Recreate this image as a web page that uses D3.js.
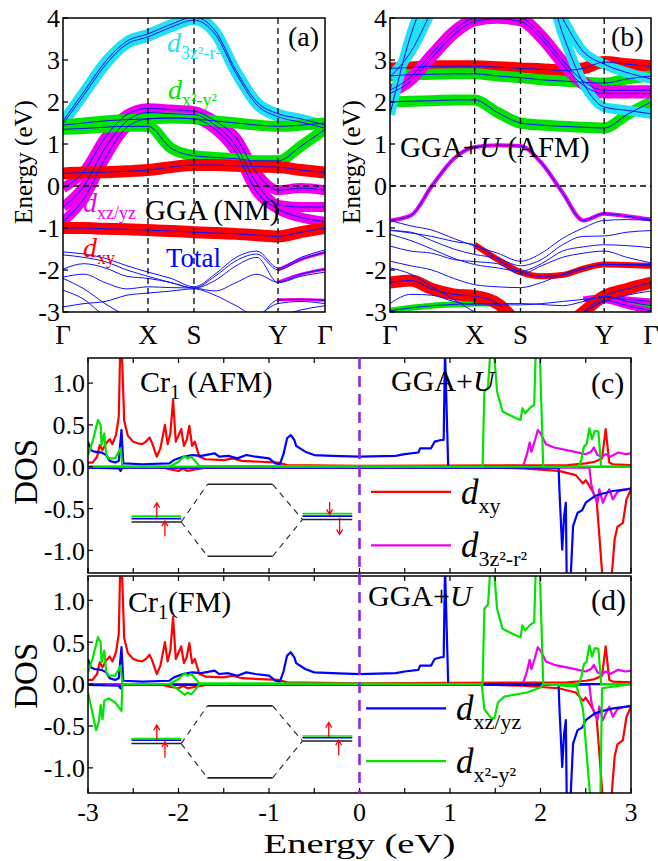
<!DOCTYPE html>
<html>
<head>
<meta charset="utf-8">
<script src="https://cdn.jsdelivr.net/npm/d3@7"></script>
<style>
body { margin: 0; background: #fff; }
svg { display: block; }
svg text { font-family: "Liberation Serif", "Times New Roman", Times, "DejaVu Serif", serif; }
</style>
</head>
<body>
<div id="chart"></div>
<script>
// ---------- band structure data (energies in eV along the k path) ----------
var kGrid = [0, 21, 42, 64, 85, 108, 131, 152, 173, 194, 215, 238, 262];
var kTicks = [0, 85, 131, 215, 262];
var kNames = ["Γ", "X", "S", "Y", "Γ"];
var eTicks = [-3, -2, -1, 0, 1, 2, 3, 4];

// (a) GGA non-magnetic
var nmXY = [
  [0.3, 0.32, 0.33, 0.35, 0.38, 0.45, 0.5, 0.5, 0.48, 0.46, 0.45, 0.38, 0.32],
  [-1.0, -1.0, -1.02, -1.03, -1.05, -1.07, -1.1, -1.12, -1.14, -1.17, -1.2, -1.1, -1.0]
];
var nmXZ = [
  [-0.05, 0.35, 1.15, 1.7, 1.85, 1.82, 1.78, 1.55, 1.15, 0.3, -0.1, -0.05, -0.1],
  [-0.5, 0.0, 0.9, 1.55, 1.75, 1.72, 1.7, 1.45, 0.95, 0.05, -0.45, -0.5, -0.5],
  [-0.85, -0.3, 0.65, 1.4, 1.6, 1.62, 1.6, 1.35, 0.8, -0.15, -0.55, -0.75, -0.85]
];
var nmZ2 = [
  [1.55, 2.25, 2.95, 3.45, 3.62, 3.85, 4.02, 3.7, 2.75, 2.0, 1.72, 1.6, 1.45],
  [1.48, 2.17, 2.87, 3.38, 3.55, 3.78, 3.95, 3.62, 2.68, 1.93, 1.65, 1.52, 1.38]
];
var nmX2 = [
  [1.35, 1.37, 1.4, 1.42, 1.42, 0.9, 0.72, 0.68, 0.65, 0.6, 0.6, 0.95, 1.35],
  [1.45, 1.5, 1.55, 1.58, 1.6, 1.62, 1.6, 1.55, 1.5, 1.45, 1.42, 1.45, 1.5]
];
var nmRest = [
  [-1.57, -1.62, -1.72, -1.9, -2.05, -2.2, -2.4, -2.1, -1.7, -1.55, -1.95, -1.7, -1.52],
  [-1.64, -1.7, -1.8, -2.0, -2.15, -2.3, -2.43, -2.15, -1.78, -1.62, -2.0, -1.75, -1.58],
  [-1.98, -1.85, -1.95, -2.15, -2.2, -2.3, -2.43, -2.25, -1.9, -1.7, -2.3, -2.15, -2.05],
  [-2.17, -2.1, -2.3, -2.45, -2.4, -2.42, -2.43, -2.5, -2.3, -2.1, -2.29, -2.1, -1.98],
  [-2.88, -2.8, -2.75, -2.6, -2.55, -2.5, -2.45, -2.6, -2.85, -3.1, -2.71, -2.7, -2.72],
  [-2.48, -2.7, -3.1, -3.3, -3.3, -3.3, -3.3, -3.3, -3.3, -3.1, -2.8, -2.75, -2.8],
  [-2.2, -2.45, -2.8, -3.1, -3.3, -3.3, -3.3, -3.3, -3.3, -3.2, -3.1, -2.95, -2.85]
];
// partial orbital weight on the lower bands: [orbital, band, first k index, last k index]
var nmPart = [["xzyz", 1, 10, 12], ["xzyz", 3, 10, 12], ["xzyz", 4, 10, 12]];

// (b) GGA+U antiferromagnetic
var afmXY = [
  [2.8, 2.82, 2.85, 2.85, 2.85, 2.83, 2.8, 2.78, 2.75, 2.8, 2.95, 2.9, 2.85],
  [-2.3, -2.25, -2.45, -2.58, -2.62, -2.8, -3.3, -3.5, -3.4, -3.0, -2.62, -2.45, -2.3]
];
var afmXZ = [
  [2.28, 2.6, 3.15, 3.7, 4.0, 4.05, 4.0, 3.6, 3.0, 2.5, 2.28, 2.28, 2.28],
  [2.2, 2.5, 3.05, 3.6, 3.92, 3.98, 3.92, 3.5, 2.9, 2.4, 2.2, 2.2, 2.2]
];
var afmXZweak = [
  [-0.82, -0.7, 0.0, 0.65, 0.93, 0.97, 0.95, 0.55, -0.15, -0.82, -0.66, -0.72, -0.8]
];
var afmZ2 = [
  [1.7, 3.6, 4.8, 5.5, 5.5, 5.5, 5.5, 5.2, 3.65, 2.45, 1.88, 1.8, 1.72],
  [2.6, 3.2, 4.2, 5.5, 5.5, 5.5, 5.5, 5.0, 4.0, 3.2, 2.9, 2.7, 2.55]
];
var afmX2 = [
  [2.62, 2.65, 2.66, 2.67, 2.67, 2.62, 2.58, 2.53, 2.5, 2.47, 2.45, 2.55, 2.62],
  [2.0, 2.02, 2.03, 2.05, 2.05, 1.75, 1.5, 1.45, 1.42, 1.4, 1.38, 1.7, 2.0]
];
var afmRest = [
  [-0.82, -0.95, -1.05, -1.25, -1.43, -1.6, -1.79, -1.6, -1.25, -1.0, -0.82, -0.8, -0.82],
  [-1.06, -1.1, -1.3, -1.5, -1.63, -1.72, -1.9, -1.75, -1.4, -1.2, -1.19, -1.1, -1.06],
  [-1.15, -1.3, -1.5, -1.72, -1.87, -1.95, -2.03, -1.85, -1.55, -1.45, -1.4, -1.42, -1.47],
  [-1.43, -1.55, -1.6, -1.75, -1.8, -1.85, -2.1, -1.9, -1.7, -1.6, -1.55, -1.7, -1.83],
  [-1.79, -1.9, -2.0, -2.2, -2.35, -2.4, -2.42, -2.3, -2.1, -1.95, -1.87, -1.87, -1.87],
  [-1.95, -2.1, -2.4, -2.7, -3.0, -3.2, -3.4, -3.4, -3.3, -3.0, -2.75, -2.6, -2.5],
  [-2.8, -2.58, -2.6, -2.75, -2.83, -2.83, -2.83, -2.8, -2.75, -2.7, -2.65, -2.7, -2.75],
  [-1.05, -1.12, -1.2, -1.32, -1.4, -1.75, -2.05, -2.15, -2.12, -1.97, -1.87, -1.88, -1.9],
  [-2.97, -2.9, -2.85, -2.82, -2.8, -2.8, -2.8, -2.82, -2.85, -2.75, -2.62, -2.75, -2.85],
  [-3.0, -3.2, -3.4, -3.5, -3.5, -3.5, -3.5, -3.5, -3.4, -3.1, -2.72, -2.85, -2.97]
];
var afmPart = [["xy", 7, 4, 12], ["x2y2", 8, 0, 5], ["x2y2", 8, 10, 12], ["xzyz", 9, 9, 12], ["xzyz", 6, 9, 12]];

// ---------- Cr1 partial DOS, [energy (eV), DOS] ----------
var dos_xy_up = [[-3.0,0.05],[-2.95,0.05],[-2.9,0.12],[-2.87,0.26],[-2.84,0.2],[-2.8,0.28],[-2.76,0.33],[-2.73,0.27],
  [-2.69,0.38],[-2.66,0.6],[-2.645,1.35],[-2.625,1.35],[-2.6,0.55],[-2.56,0.37],[-2.5,0.3],[-2.45,0.28],[-2.4,0.27],
  [-2.36,0.3],[-2.32,0.35],[-2.29,0.28],[-2.24,0.12],[-2.2,0.22],[-2.15,0.5],[-2.12,0.27],[-2.09,0.4],[-2.06,0.8],
  [-2.03,0.3],[-1.97,0.45],[-1.94,0.25],[-1.91,0.32],[-1.88,0.49],[-1.85,0.25],[-1.82,0.3],[-1.77,0.12],[-1.7,0.09],
  [-1.5,0.08],[-1.4,0.1],[-1.3,0.07],[-1.1,0.06],[-0.9,0.05],[-0.8,0.02],[0,0.01],[2.3,0.02],[2.5,0.04],[2.6,0.06],
  [2.68,0.1],[2.72,0.45],[2.74,0.25],[2.76,0.05],[2.8,0.03],[3,0.02]];
var dos_xzyz_up = [[-3.0,0.3],[-2.97,0.2],[-2.93,0.18],[-2.85,0.17],[-2.8,0.14],[-2.76,0.07],[-2.7,0.05],[-2.66,0.07],
  [-2.63,0.44],[-2.61,0.04],[-2.4,0.03],[-2.1,0.04],[-2.05,0.08],[-1.95,0.12],[-1.85,0.14],[-1.75,0.13],[-1.6,0.16],
  [-1.55,0.12],[-1.45,0.13],[-1.35,0.1],[-1.25,0.14],[-1.15,0.12],[-1.0,0.1],[-0.93,0.04],[-0.88,0.03],[-0.84,0.15],
  [-0.8,0.34],[-0.76,0.38],[-0.72,0.32],[-0.7,0.25],[-0.6,0.18],[-0.5,0.14],[-0.3,0.13],[0,0.12],[0.4,0.13],[0.5,0.15],
  [0.65,0.17],[0.67,0.22],[0.79,0.22],[0.83,0.3],[0.9,0.32],[0.93,0.32],[0.945,1.4],[0.98,0.0],[3,0.0]];
var dos_z2_up = [[-3,0],[1.8,0.0],[1.82,0.05],[1.85,0.15],[1.88,0.29],[1.9,0.18],[1.94,0.32],[1.97,0.44],[2.0,0.4],
  [2.06,0.27],[2.15,0.23],[2.33,0.19],[2.5,0.15],[2.56,0.18],[2.59,0.23],[2.63,0.14],[2.68,0.12],[2.72,0.15],
  [2.77,0.12],[2.86,0.17],[2.94,0.15],[3,0.16]];
var dos_x2y2_up = [[-3,0.14],[-2.95,0.3],[-2.89,0.56],[-2.86,0.5],[-2.85,0.26],[-2.82,0.4],[-2.8,0.15],[-2.77,0.1],
  [-2.7,0.1],[-2.64,0.22],[-2.62,0.0],[-2.1,0.0],[-2.05,0.03],[-2.0,0.06],[-1.93,0.13],[-1.9,0.1],[-1.86,0.12],
  [-1.8,0.05],[-1.77,0.01],[1.36,0.0],[1.38,0.9],[1.42,0.95],[1.45,1.45],[1.48,1.45],[1.52,0.9],[1.58,0.66],[1.73,0.58],
  [1.78,0.56],[1.8,0.7],[1.83,0.64],[1.88,0.7],[1.93,0.74],[1.95,1.45],[1.99,1.45],[2.03,0.0],[2.42,0.0],[2.45,0.08],
  [2.48,0.24],[2.51,0.27],[2.54,0.46],[2.57,0.33],[2.6,0.43],[2.64,0.42],[2.67,0.0],[3,0]];
var dos_xy_dn = [[-3,0],[-2.2,0],[-2.1,-0.03],[-2.0,-0.05],[-1.95,-0.02],[-1.9,-0.05],[-1.8,-0.03],[-1.7,-0.01],
  [1.5,-0.01],[1.8,-0.02],[2.2,-0.05],[2.39,-0.1],[2.47,-0.2],[2.5,-0.16],[2.58,-0.3],[2.62,-0.4],[2.65,-0.82],
  [2.69,-1.4],[2.78,-1.4],[2.82,-0.86],[2.85,-0.72],[2.91,-0.67],[2.95,-0.39],[3,-0.27]];
var dos_xzyz_dn = [[-3,-0.01],[-2.66,-0.02],[-2.64,-0.05],[-2.62,-0.01],[2.2,-0.01],[2.21,-0.3],[2.24,-0.99],
  [2.26,-0.6],[2.28,-0.43],[2.29,-1.4],[2.33,-1.4],[2.36,-0.71],[2.41,-0.55],[2.46,-0.52],[2.5,-0.43],[2.6,-0.35],
  [2.69,-0.32],[2.8,-0.29],[2.95,-0.27],[3,-0.26]];
var dos_z2_dn = [[-3,-0.01],[2.54,-0.01],[2.56,-0.2],[2.58,-0.3],[2.63,-0.43],[2.65,-0.27],[2.69,-0.43],[2.72,-0.35],
  [2.76,-0.27],[2.8,-0.39],[2.85,-0.3],[2.9,-0.28],[2.95,-0.27],[3,-0.26]];
var dosAFM_x2y2_dn = [[-3,0],[3,0]];
var dosFM_x2y2_dn = [[-3,-0.1],[-2.96,-0.3],[-2.91,-0.55],[-2.88,-0.45],[-2.86,-0.25],[-2.84,-0.42],[-2.82,-0.2],
  [-2.77,-0.17],[-2.7,-0.22],[-2.63,-0.32],[-2.62,0],[-2.1,0],[-2.05,-0.03],[-2.0,-0.07],[-1.93,-0.13],[-1.9,-0.1],
  [-1.86,-0.12],[-1.8,-0.05],[-1.77,0],[1.35,0],[1.38,-0.3],[1.45,-0.4],[1.49,-0.41],[1.53,-0.22],[1.6,-0.15],
  [1.85,-0.1],[2.0,-0.04],[2.03,0],[2.4,-0.03],[2.47,-0.3],[2.56,-1.5],[2.66,-1.5],[2.68,-0.05],[3,0]];

var dosTicksX = [-3, -2, -1, 0, 1, 2, 3];
var dosTicksY = [-1, -0.5, 0, 0.5, 1];

// level-scheme inset (energy, DOS units of the panel)
var diagX = [-2.52, -1.97, -1.68, -0.96, -0.63, -0.08];
var diagAFM = { left: [-0.59, -0.62, -0.66], right: [-0.56, -0.59, -0.63], top: -0.21, bottom: -1.07,
  arrows: [[-2.24, -0.61, -0.43], [-2.15, -0.83, -0.65], [-0.33, -0.42, -0.57], [-0.22, -0.61, -0.81]] };
var diagFM = { left: [-0.65, -0.67, -0.71], right: [-0.62, -0.64, -0.68], top: -0.26, bottom: -1.12,
  arrows: [[-2.24, -0.67, -0.49], [-2.15, -0.88, -0.69], [-0.34, -0.63, -0.46], [-0.23, -0.85, -0.67]] };

// ---------- drawing ----------
var colors = { xy: "#ff0000", xzyz: "#ee00ee", z2: "#22e2f2", x2y2: "#00e400", tot: "#1010ff" };
var fatW = { xy: 12, xzyz: 10, z2: 10, x2y2: 11 };

var svg = d3.select("#chart").append("svg")
  .attr("width", 658).attr("height", 861);
svg.append("rect").attr("width", 658).attr("height", 861).attr("fill", "#fff");

function orbLabel(x, y, sub, color, size, subSize) {
  var t = svg.append("text").attr("x", x).attr("y", y).attr("fill", color).attr("font-size", size);
  t.append("tspan").attr("font-style", "italic").text("d");
  t.append("tspan").attr("font-size", subSize).attr("dy", size * 0.25).text(sub);
  return t;
}

function bandPanel(p) {
  var x = d3.scaleLinear().domain([0, 262]).range([p.x0, p.x1]);
  var y = d3.scaleLinear().domain([-3, 4]).range([312, 18]);
  svg.append("clipPath").attr("id", "clip-" + p.id).append("rect")
    .attr("x", p.x0).attr("y", 18).attr("width", p.x1 - p.x0).attr("height", 294);
  var g = svg.append("g").attr("clip-path", "url(#clip-" + p.id + ")");
  var line = d3.line().x((d, i) => x(kGrid[i])).y(d => y(d)).curve(d3.curveMonotoneX);

  // partial weights first
  p.part.forEach(function(pt) {
    var seg = d3.line().x((d, i) => x(kGrid[i])).y(d => y(d)).curve(d3.curveMonotoneX)
      .defined((d, i) => i >= pt[2] && i <= pt[3]);
    g.append("path").attr("d", seg(p.rest[pt[1]])).attr("fill", "none")
      .attr("stroke", colors[pt[0]]).attr("stroke-width", p.partW);
  });
  if (p.weak) {
    g.selectAll(null).data(p.weak).enter().append("path")
      .attr("d", line).attr("fill", "none").attr("stroke", colors.xzyz).attr("stroke-width", 4);
  }
  p.order.forEach(function(orb) {
    g.selectAll(null).data(p.fat[orb]).enter().append("path")
      .attr("d", line).attr("fill", "none")
      .attr("stroke", colors[orb]).attr("stroke-width", fatW[orb]);
  });
  // thin total bands on top
  var all = [];
  p.order.forEach(orb => { all = all.concat(p.fat[orb]); });
  all = all.concat(p.rest).concat(p.weak || []);
  g.selectAll(null).data(all).enter().append("path")
    .attr("d", line).attr("fill", "none").attr("stroke", colors.tot).attr("stroke-width", 1);

  // dashed guides
  svg.selectAll(null).data(kTicks.slice(1, 4)).enter().append("line")
    .attr("x1", d => x(d)).attr("x2", d => x(d)).attr("y1", 18).attr("y2", 312)
    .attr("stroke", "#000").attr("stroke-width", 1.3).attr("stroke-dasharray", "6,4");
  svg.append("line").attr("x1", p.x0).attr("x2", p.x1).attr("y1", y(0)).attr("y2", y(0))
    .attr("stroke", "#000").attr("stroke-width", 1.3).attr("stroke-dasharray", "6,4");

  svg.append("rect").attr("x", p.x0).attr("y", 18).attr("width", p.x1 - p.x0).attr("height", 294)
    .attr("fill", "none").attr("stroke", "#000").attr("stroke-width", 1.5);

  svg.selectAll(null).data(eTicks).enter().append("line")
    .attr("x1", p.x0).attr("x2", p.x0 + 5).attr("y1", d => y(d)).attr("y2", d => y(d))
    .attr("stroke", "#000").attr("stroke-width", 1.3);
  svg.selectAll(null).data(eTicks).enter().append("text")
    .attr("x", p.x0 - 3).attr("y", d => y(d)).attr("dy", "0.36em")
    .attr("text-anchor", "end").attr("font-size", 26).text(d => String(d));
  svg.selectAll(null).data(kTicks).enter().append("text")
    .attr("x", d => x(d)).attr("y", 344).attr("text-anchor", "middle")
    .attr("font-size", 27).text((d, i) => kNames[i]);
  svg.append("text").attr("transform", "translate(" + p.labX + ",162) rotate(-90)")
    .attr("text-anchor", "middle").attr("dy", "0.35em").attr("font-size", 25).text("Energy (eV)");
}

bandPanel({ id: "a", x0: 63, x1: 325, labX: 23, partW: 3,
  fat: { xy: nmXY, xzyz: nmXZ, z2: nmZ2, x2y2: nmX2 },
  order: ["z2", "xzyz", "x2y2", "xy"], rest: nmRest, part: nmPart });
bandPanel({ id: "b", x0: 390, x1: 651, labX: 351, partW: 6,
  fat: { xy: afmXY, xzyz: afmXZ, z2: afmZ2, x2y2: afmX2 },
  order: ["xy", "x2y2", "xzyz", "z2"], rest: afmRest, part: afmPart, weak: afmXZweak });

// band panel annotations
orbLabel(167, 52, "3z²-r²", colors.z2, 28, 18);
orbLabel(168, 99, "x²-y²", colors.x2y2, 28, 18);
orbLabel(83, 212, "xz/yz", colors.xzyz, 28, 18);
orbLabel(83, 257, "xy", colors.xy, 28, 18);
svg.append("text").attr("x", 145).attr("y", 220).attr("font-size", 29).text("GGA (NM)");
svg.append("text").attr("x", 166).attr("y", 267).attr("font-size", 27).attr("fill", "#0000ff").text("Total");
svg.append("text").attr("x", 288).attr("y", 46).attr("font-size", 28).text("(a)");
svg.append("text").attr("x", 611).attr("y", 46).attr("font-size", 28).text("(b)");
var gu = svg.append("text").attr("x", 400).attr("y", 157).attr("font-size", 29);
gu.append("tspan").text("GGA+");
gu.append("tspan").attr("font-style", "italic").text("U");
gu.append("tspan").text(" (AFM)");

// ---------- DOS panels ----------
var xD = d3.scaleLinear().domain([-3, 3]).range([88, 631]);

function dosPanel(p) {
  var y = d3.scaleLinear().domain(p.yDom).range([p.y1, p.y0]);
  svg.append("clipPath").attr("id", "clip-" + p.id).append("rect")
    .attr("x", 88).attr("y", p.y0).attr("width", 543).attr("height", p.y1 - p.y0);
  var g = svg.append("g").attr("clip-path", "url(#clip-" + p.id + ")");
  var line = d3.line().x(d => xD(d[0])).y(d => y(d[1]));
  var curves = [
    [dos_xy_up, "xy"], [dos_xy_dn, "xy"],
    [dos_z2_up, "xzyz"], [dos_z2_dn, "xzyz"],
    [dos_xzyz_up, "tot"], [dos_xzyz_dn, "tot"],
    [dos_x2y2_up, "x2y2"], [p.x2dn, "x2y2"]
  ];
  g.selectAll(null).data(curves).enter().append("path")
    .attr("d", d => line(d[0])).attr("fill", "none")
    .attr("stroke", d => d[1] === "tot" ? "#0000ff" : colors[d[1]])
    .attr("stroke-width", 2.2).attr("stroke-linejoin", "round");

  // level-scheme inset
  var dg = p.diag;
  var lvlCol = [colors.x2y2, "#0000ff", "#222"];
  dg.left.forEach(function(v, i) {
    g.append("line").attr("x1", xD(diagX[0])).attr("x2", xD(diagX[1])).attr("y1", y(v)).attr("y2", y(v))
      .attr("stroke", lvlCol[i]).attr("stroke-width", 1.6);
  });
  dg.right.forEach(function(v, i) {
    g.append("line").attr("x1", xD(diagX[4])).attr("x2", xD(diagX[5])).attr("y1", y(v)).attr("y2", y(v))
      .attr("stroke", lvlCol[i]).attr("stroke-width", 1.6);
  });
  [dg.top, dg.bottom].forEach(function(v) {
    g.append("line").attr("x1", xD(diagX[2])).attr("x2", xD(diagX[3])).attr("y1", y(v)).attr("y2", y(v))
      .attr("stroke", "#222").attr("stroke-width", 1.6);
    g.append("line").attr("x1", xD(diagX[1])).attr("x2", xD(diagX[2]))
      .attr("y1", y(dg.left[2])).attr("y2", y(v))
      .attr("stroke", "#222").attr("stroke-width", 1.1).attr("stroke-dasharray", "6,5");
    g.append("line").attr("x1", xD(diagX[3])).attr("x2", xD(diagX[4]))
      .attr("y1", y(v)).attr("y2", y(dg.right[2]))
      .attr("stroke", "#222").attr("stroke-width", 1.1).attr("stroke-dasharray", "6,5");
  });
  dg.arrows.forEach(function(a) {
    var ax = xD(a[0]), y0 = y(a[1]), y1 = y(a[2]);
    var s = y1 < y0 ? 1 : -1;
    g.append("path").attr("d", "M" + ax + "," + y0 + "L" + ax + "," + y1 +
        "M" + (ax - 3) + "," + (y1 + 5 * s) + "L" + ax + "," + y1 + "L" + (ax + 3) + "," + (y1 + 5 * s))
      .attr("fill", "none").attr("stroke", "#ff0000").attr("stroke-width", 1.3);
  });

  // frame and ticks
  svg.append("rect").attr("x", 88).attr("y", p.y0).attr("width", 543).attr("height", p.y1 - p.y0)
    .attr("fill", "none").attr("stroke", "#000").attr("stroke-width", 1.5);
  var xt = d3.range(-3, 3.01, 0.5);
  [p.y0, p.y1].forEach(function(yy, j) {
    svg.selectAll(null).data(xt).enter().append("line")
      .attr("x1", d => xD(d)).attr("x2", d => xD(d))
      .attr("y1", yy).attr("y2", j === 0 ? yy + 5 : yy - 5)
      .attr("stroke", "#000").attr("stroke-width", 1.2);
  });
  svg.selectAll(null).data(dosTicksY).enter().append("line")
    .attr("x1", 88).attr("x2", 93).attr("y1", d => y(d)).attr("y2", d => y(d))
    .attr("stroke", "#000").attr("stroke-width", 1.2);
  svg.selectAll(null).data(dosTicksY).enter().append("text")
    .attr("x", 85).attr("y", d => y(d)).attr("dy", "0.36em").attr("text-anchor", "end")
    .attr("font-size", 26).text(d => d.toFixed(1));
  svg.append("text").attr("transform", "translate(25," + y(p.labV) + ") rotate(-90)")
    .attr("text-anchor", "middle").attr("dy", "0.36em").attr("font-size", 33).text("DOS");
  return y;
}

var yC = dosPanel({ id: "c", y0: 358, y1: 573, yDom: [-1.27, 1.3], x2dn: dosAFM_x2y2_dn, diag: diagAFM, labV: -0.06 });
var yDd = dosPanel({ id: "d", y0: 576, y1: 793, yDom: [-1.30, 1.29], x2dn: dosFM_x2y2_dn, diag: diagFM, labV: 0.1 });

// Fermi level
svg.append("line").attr("x1", xD(0)).attr("x2", xD(0)).attr("y1", 358).attr("y2", 793)
  .attr("stroke", "#8a2be2").attr("stroke-width", 2.6).attr("stroke-dasharray", "11,7");

// bottom axis
svg.selectAll(null).data(dosTicksX).enter().append("text")
  .attr("x", d => xD(d)).attr("y", 821).attr("text-anchor", "middle").attr("font-size", 26)
  .text(d => String(d));
svg.append("text").attr("x", xD(0)).attr("y", 853).attr("text-anchor", "middle")
  .attr("font-size", 27).attr("textLength", 192).attr("lengthAdjust", "spacingAndGlyphs").text("Energy (eV)");

// DOS annotations
function crLabel(x, y, rest) {
  var t = svg.append("text").attr("x", x).attr("y", y).attr("font-size", 30);
  t.append("tspan").text("Cr");
  t.append("tspan").attr("font-size", 20).attr("dy", 7).text("1");
  t.append("tspan").attr("dy", -7).text(rest);
}
crLabel(140, 392, " (AFM)");
crLabel(128, 612, "(FM)");
[[391, 391], [368, 606]].forEach(function(pos) {
  var t = svg.append("text").attr("x", pos[0]).attr("y", pos[1]).attr("font-size", 30);
  t.append("tspan").text("GGA+");
  t.append("tspan").attr("font-style", "italic").text("U");
});
svg.append("text").attr("x", 591).attr("y", 393).attr("font-size", 30).text("(c)");
svg.append("text").attr("x", 591).attr("y", 610).attr("font-size", 30).text("(d)");

// legends
var legend = [
  [yC, -0.3, "xy", colors.xy],
  [yC, -0.94, "3z²-r²", colors.xzyz],
  [yDd, -0.29, "xz/yz", "#0000ff"],
  [yDd, -0.92, "x²-y²", colors.x2y2]
];
legend.forEach(function(l, i) {
  var yy = l[0](l[1]);
  var x0 = i < 2 ? 371 : 366;
  svg.append("line").attr("x1", x0).attr("x2", x0 + 80).attr("y1", yy).attr("y2", yy)
    .attr("stroke", l[3]).attr("stroke-width", 2.4);
  orbLabel(x0 + 90, yy + 12, l[2], "#000", 35, 22);
});
</script>
</body>
</html>
